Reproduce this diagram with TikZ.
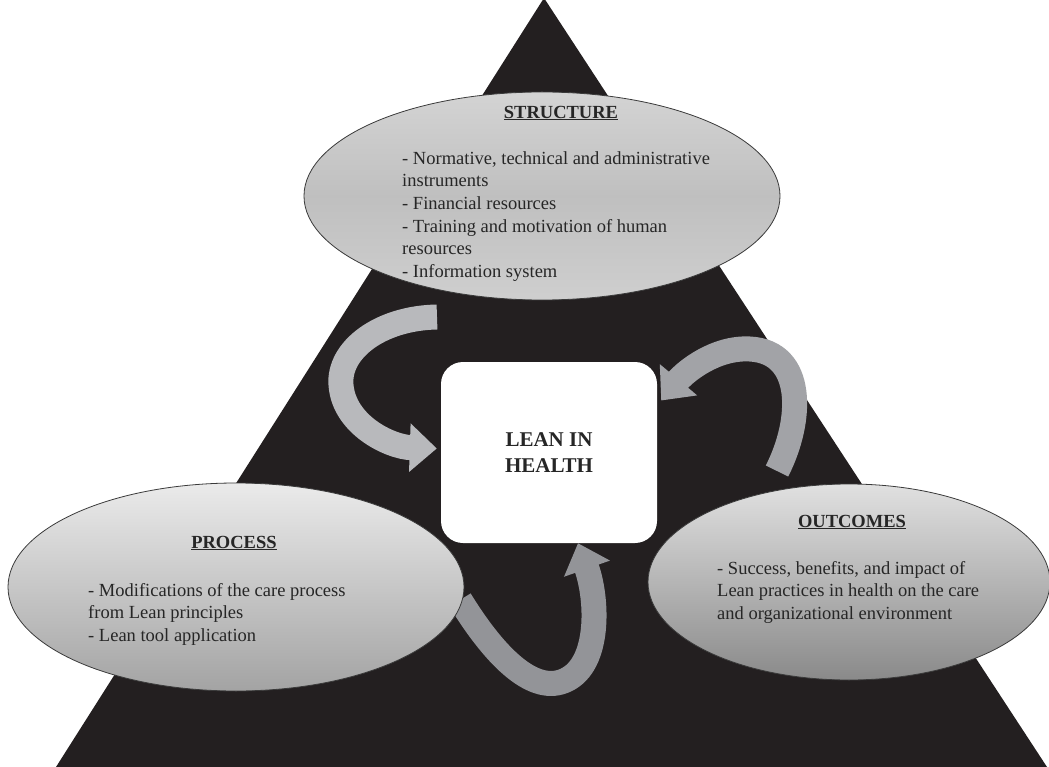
\documentclass[tikz,border=0pt]{standalone}
\usepackage{fontspec}
\setmainfont{Liberation Serif}
\usetikzlibrary{shapes.geometric,arrows.meta}
\definecolor{tri}{HTML}{231F20}
\definecolor{txt}{HTML}{262626}
\definecolor{arA}{HTML}{B8B9BC}
\definecolor{arB}{HTML}{A2A3A7}
\definecolor{arC}{HTML}{939498}
\definecolor{edge}{HTML}{3A3A3A}
\begin{document}
\begin{tikzpicture}[x=1pt,y=-1pt,
  bubble/.style={ellipse, draw=edge, line width=0.8pt, inner sep=0pt},
  ttl/.style={font=\fontsize{18.5}{22}\selectfont\bfseries, text=txt, inner sep=0pt},
  body/.style={font=\fontsize{18.5}{22.7}\selectfont, text=txt, align=left, inner sep=0pt, anchor=north west},
  ribbon/.style={line width=25pt, -{Triangle[length=27pt,width=47pt]}},
  leanbox/.style={rectangle, rounded corners=22pt, fill=white, minimum width=216pt, minimum height=181pt,
    align=center, font=\fontsize{21}{26}\selectfont\bfseries, text=txt}]
\useasboundingbox (0,0) rectangle (1049,767);
% black triangle
\fill[tri] (544,-2) -- (1047,767) -- (56,767) -- cycle;
% central box
\node[leanbox] (lean) at (549,452.5) {LEAN IN\\HEALTH};
% arrow free ends
\coordinate (a1s) at (437,317);
\coordinate (a2s) at (777,471);
\coordinate (a3s) at (460,600);
% curved arrows
\draw[ribbon, draw=arA] (a1s) .. controls (380,318) and (338,350) .. (341,385)
   .. controls (344,425) and (390,447) .. ([shift={(-4,-4)}]lean.west);
\draw[ribbon, draw=arB] (a2s) .. controls (803,420) and (805,352) .. (750,349)
   .. controls (715,347) and (685,372) .. ([shift={(4,-52)}]lean.east);
\draw[ribbon, draw=arC] (a3s) .. controls (497,660) and (535,695) .. (566,680)
   .. controls (600,664) and (598,600) .. ([xshift=29]lean.south);
% ellipses
\node[bubble, minimum width=476pt, minimum height=208pt,
      top color=black!17, bottom color=black!19, middle color=black!25] (structure) at (542,196) {};
\node[bubble, minimum width=456pt, minimum height=208pt,
      shading angle=15, top color=black!8, bottom color=black!36] (process) at (236,587) {};
\node[bubble, minimum width=402pt, minimum height=196pt,
      shading angle=-15, top color=black!12, bottom color=black!46] (outcomes) at (849,582) {};
% texts
\node[ttl] (stt) at (561,113) {\underline{STRUCTURE}};
\node[body] (stb) at (402,151) {- Normative, technical and administrative\\instruments\\- Financial resources\\- Training and motivation of human\\resources\\- Information system};
\node[ttl] (prt) at (234,543) {\underline{PROCESS}};
\node[body] (prb) at (88,583) {- Modifications of the care process\\from Lean principles\\- Lean tool application};
\node[ttl] (out) at (852,522) {\underline{OUTCOMES}};
\node[body] (oub) at (717,561) {- Success, benefits, and impact of\\Lean practices in health on the care\\and organizational environment};
\end{tikzpicture}
\end{document}
